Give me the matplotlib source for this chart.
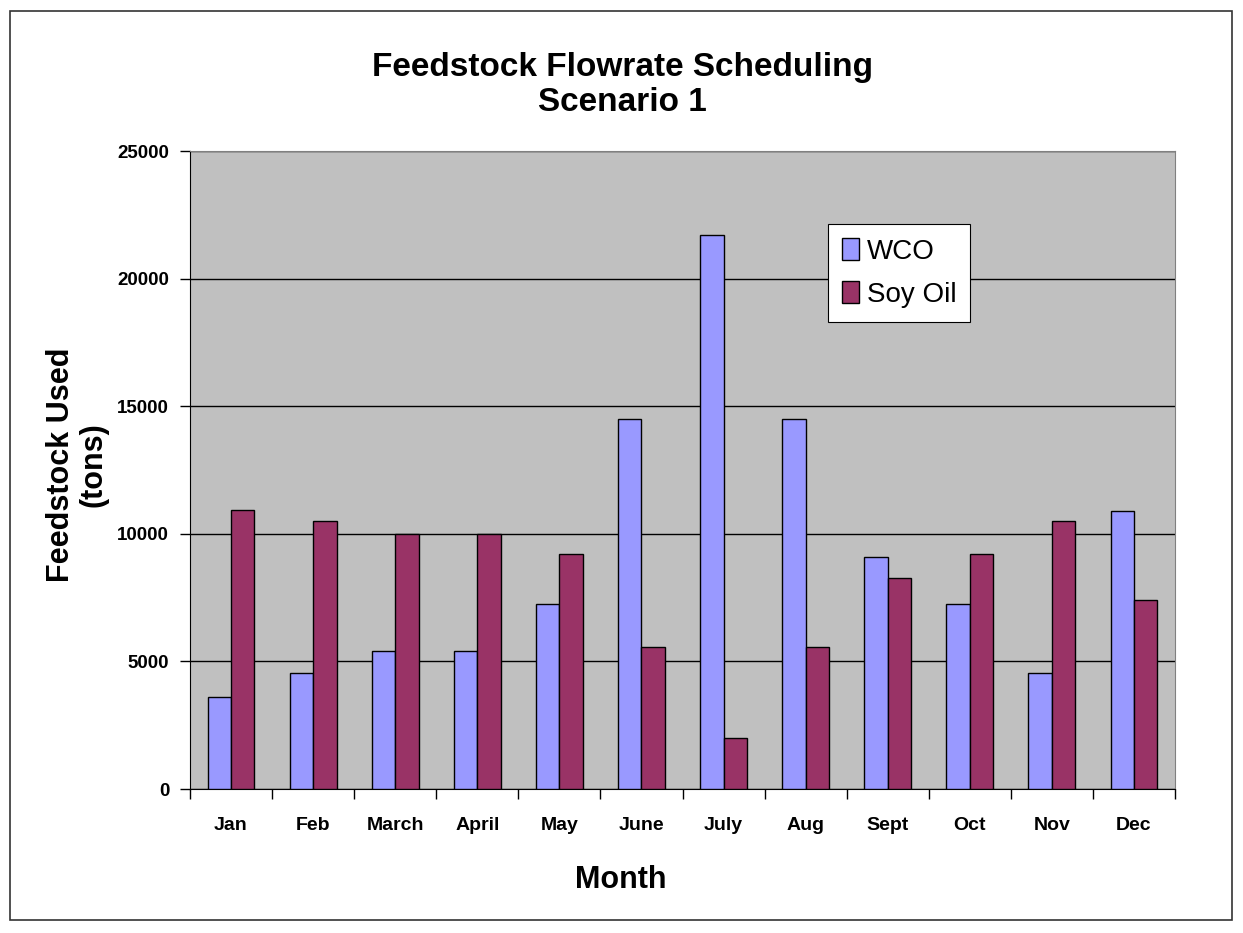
import matplotlib
matplotlib.use("Agg")
import matplotlib.pyplot as plt
import numpy as np
from matplotlib.patches import Rectangle

months = ["Jan", "Feb", "March", "April", "May", "June",
          "July", "Aug", "Sept", "Oct", "Nov", "Dec"]
wco = [3600, 4540, 5400, 5400, 7250, 14500, 21700, 14500, 9100, 7250, 4540, 10900]
soy_oil = [10950, 10500, 10000, 10000, 9200, 5550, 2000, 5550, 8250, 9200, 10500, 7400]

plt.rcParams['font.family'] = ['Liberation Sans', 'DejaVu Sans']

fig = plt.figure(figsize=(12.43, 9.33), dpi=100)
fig.patches.append(Rectangle((10 / 1243, 1 - 920 / 933), 1222 / 1243, 909 / 933,
                             transform=fig.transFigure, fill=False,
                             edgecolor='#333333', linewidth=1.2))

ax = fig.add_axes([190 / 1243, 1 - 789 / 933, 985 / 1243, 638 / 933])
ax.set_facecolor('#C0C0C0')

x = np.arange(len(months))
w = 1 / 3.5
ax.bar(x - w / 2, wco, w, color='#9999FF', edgecolor='black', linewidth=1, label='WCO', zorder=3)
ax.bar(x + w / 2, soy_oil, w, color='#993366', edgecolor='black', linewidth=1, label='Soy Oil', zorder=3)

ax.set_xlim(-0.5, len(months) - 0.5)
ax.set_ylim(0, 25000)
ax.set_yticks(np.arange(0, 25001, 5000))
ax.yaxis.grid(True, color='black', linewidth=1)
ax.set_axisbelow(True)

ax.set_xticks(x)
ax.set_xticklabels(months, fontsize=14, fontweight='bold')
ax.tick_params(axis='x', length=0, pad=20)
ax.set_xticks(np.arange(-0.5, len(months)), minor=True)
ax.tick_params(axis='x', which='minor', length=7, width=1, direction='out')
ax.tick_params(axis='y', length=7, width=1, labelsize=13.5, pad=8)
for lbl in ax.get_yticklabels():
    lbl.set_fontweight('bold')

for side in ['top', 'right']:
    ax.spines[side].set_color('#808080')
for side in ['left', 'bottom']:
    ax.spines[side].set_color('black')

fig.text(621 / 1243, 1 - 880 / 933, 'Month', ha='center', va='center',
         fontsize=22, fontweight='bold')
fig.text(77 / 1243, 1 - 465 / 933, 'Feedstock Used\n(tons)', ha='center', va='center',
         rotation=90, fontsize=22, fontweight='bold', linespacing=1.1)

fig.text(622 / 1243, 1 - 85 / 933, 'Feedstock Flowrate Scheduling\nScenario 1',
         ha='center', va='center', fontsize=24, fontweight='bold', linespacing=1.2)

leg = ax.legend(loc='upper left', bbox_to_anchor=((828 - 190) / 985, (789 - 224) / 638),
                fontsize=20, frameon=True, fancybox=False, edgecolor='black',
                framealpha=1, handlelength=0.6, handleheight=0.85, handletextpad=0.3,
                borderpad=0.5, labelspacing=0.6, borderaxespad=0)
leg.get_frame().set_linewidth(0.8)

fig.savefig('out.png', dpi=100, facecolor='white')
